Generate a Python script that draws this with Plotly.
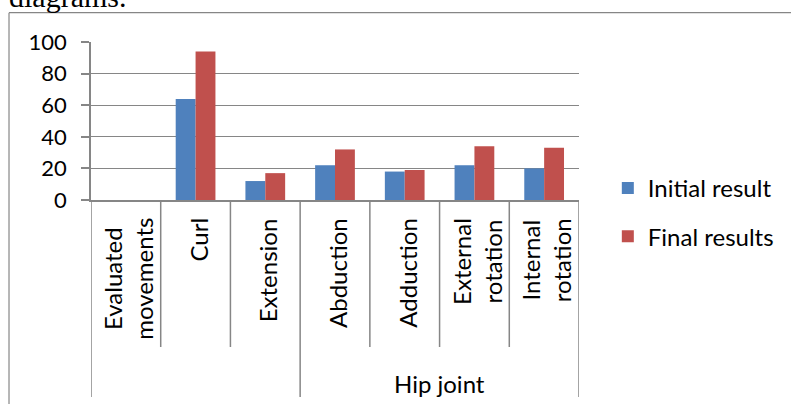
import plotly.graph_objects as go

# ---- data ----
categories = ["Evaluated movements", "Curl", "Extension", "Abduction",
              "Adduction", "External rotation", "Internal rotation"]
initial_result = [None, 64, 12, 22, 18, 22, 20]
final_results = [None, 94, 17, 32, 19, 34, 33]
group_labels = ["", "Hip joint"]
group_sizes = [3, 4]
y_ticks = [0, 20, 40, 60, 80, 100]

# ---- layout geometry ----
W, H = 791, 404
L, R, T, B = 91, 209, 42, 204
PW, PH = W - L - R, H - T - B
FONT = "Lato"
GRAY = "#868686"


def px_x(px):
    return (px - L) / PW


def px_y(py):
    return (H - B - py) / PH


xs = list(range(len(categories)))
fig = go.Figure()
fig.add_trace(go.Bar(x=xs, y=initial_result, name="Initial result",
                     marker=dict(color="#4F81BD", line=dict(width=0)),
                     legendgroup="a"))
fig.add_trace(go.Bar(x=xs, y=final_results, name="Final results",
                     marker=dict(color="#C0504D", line=dict(width=0)),
                     legendgroup="b"))

shapes = []
annotations = []

# category separators
n = len(categories)
group_edges = [0]
for s in group_sizes:
    group_edges.append(group_edges[-1] + s)
for i in range(n + 1):
    long_line = i in group_edges
    shapes.append(dict(type="line", xref="x", yref="paper",
                       x0=i - 0.5, x1=i - 0.5, y0=0,
                       y1=px_y(397 if long_line else 347),
                       line=dict(color=GRAY, width=1.5)))

# category labels (rotated)
for i, name in enumerate(categories):
    annotations.append(dict(
        x=i, xref="x", y=px_y(216), yref="paper",
        text="<br>".join(name.split(" ")), textangle=-90,
        xanchor="center", yanchor="top", align="center", showarrow=False,
        xshift=2, font=dict(family=FONT, size=24, color="black")))

# group labels
for g, lab in enumerate(group_labels):
    if lab:
        c = (group_edges[g] + group_edges[g + 1] - 1) / 2
        annotations.append(dict(
            x=c, xref="x", y=px_y(383), yref="paper", text=lab,
            xanchor="center", yanchor="middle", showarrow=False,
            font=dict(family=FONT, size=24, color="black")))

# text above the chart (cut off, as in the source page)
annotations.append(dict(
    x=px_x(6), xref="paper", y=px_y(15), yref="paper", text="diagrams.",
    xanchor="left", yanchor="bottom", showarrow=False,
    font=dict(family="Liberation Serif", size=30, color="black")))

# chart border (partially visible)
shapes.append(dict(type="line", xref="paper", yref="paper",
                   x0=px_x(8.5), x1=px_x(8.5), y0=px_y(12.7), y1=px_y(420),
                   line=dict(color=GRAY, width=1.2)))
shapes.append(dict(type="line", xref="paper", yref="paper",
                   x0=px_x(8.5), x1=px_x(800), y0=px_y(12.7), y1=px_y(12.7),
                   line=dict(color=GRAY, width=1.2)))

fig.update_layout(
    width=W, height=H, margin=dict(l=L, r=R, t=T, b=B, pad=0),
    paper_bgcolor="white", plot_bgcolor="white",
    barmode="group", bargap=0.43, bargroupgap=0,
    showlegend=True,
    legend=dict(x=px_x(611), y=px_y(166), xanchor="left", yanchor="top",
                font=dict(family=FONT, size=24, color="black"),
                tracegroupgap=14, bgcolor="rgba(0,0,0,0)"),
    shapes=shapes, annotations=annotations,
    xaxis=dict(range=[-0.5, n - 0.5], showticklabels=False, showgrid=False,
               zeroline=False, showline=True, linecolor=GRAY, linewidth=1.5,
               ticks=""),
    yaxis=dict(range=[0, 100], tickvals=y_ticks, showgrid=True,
               gridcolor=GRAY, gridwidth=1.3, zeroline=False, showline=True,
               linecolor=GRAY, linewidth=1.5, ticks="outside", ticklen=8,
               tickcolor=GRAY, tickwidth=1.5, ticklabelstandoff=10,
               tickfont=dict(family=FONT, size=22, color="black")),
)

fig.write_html("out.html")
